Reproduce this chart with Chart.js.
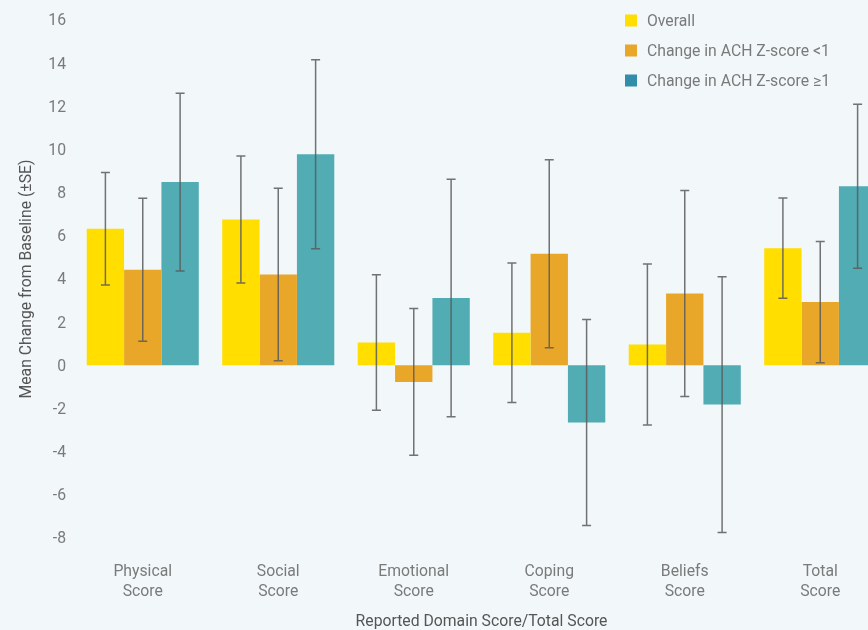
<!DOCTYPE html>
<html>
<head>
<meta charset="utf-8">
<script src="https://cdn.jsdelivr.net/npm/chart.js@4"></script>
<style>
html,body{margin:0;padding:0;background:#f2f7fa;overflow:hidden;width:868px;height:630px;}
canvas{display:block;}
</style>
</head>
<body>
<canvas id="c" width="888" height="630"></canvas>
<script>
const categories = [['Physical','Score'],['Social','Score'],['Emotional','Score'],['Coping','Score'],['Beliefs','Score'],['Total','Score']];
const seriesNames = ['Overall','Change in ACH Z-score <1','Change in ACH Z-score \u22651'];
const overall = [6.33, 6.76, 1.06, 1.51, 0.96, 5.43];
const overallSE = [2.61, 2.94, 3.14, 3.23, 3.73, 2.32];
const zLow = [4.43, 4.21, -0.77, 5.17, 3.33, 2.93];
const zLowSE = [3.31, 4.00, 3.40, 4.35, 4.77, 2.81];
const zHigh = [8.49, 9.78, 3.12, -2.65, -1.82, 8.30];
const zHighSE = [4.12, 4.38, 5.50, 4.77, 5.92, 3.80];
const yTicks = [-8,-6,-4,-2,0,2,4,6,8,10,12,14,16];

const barColors = ['#ffde00','#e8a729','#51acb4'];
const legendColors = ['#ffde00','#e8a729','#318daa'];
const FONT = 'Roboto';
const FS = 15.75;

const errorBars = {
  id: 'errorBars',
  afterDatasetsDraw(chart) {
    const ctx = chart.ctx;
    const y = chart.scales.y;
    ctx.save();
    ctx.strokeStyle = 'rgba(90,90,90,0.85)';
    ctx.lineWidth = 1.5;
    chart.data.datasets.forEach((ds, i) => {
      const meta = chart.getDatasetMeta(i);
      meta.data.forEach((bar, j) => {
        const v = ds.data[j], se = ds.se[j];
        const top = y.getPixelForValue(v + se);
        const bot = y.getPixelForValue(v - se);
        const x = bar.x;
        ctx.beginPath();
        ctx.moveTo(x, top); ctx.lineTo(x, bot);
        ctx.moveTo(x - 4.5, top); ctx.lineTo(x + 4.5, top);
        ctx.moveTo(x - 4.5, bot); ctx.lineTo(x + 4.5, bot);
        ctx.stroke();
      });
    });
    ctx.restore();
  }
};

const legendList = {
  id: 'legendList',
  afterDraw(chart) {
    const ctx = chart.ctx;
    ctx.save();
    ctx.font = FS + 'px ' + FONT;
    ctx.textBaseline = 'middle';
    ctx.textAlign = 'left';
    chart.data.datasets.forEach((ds, i) => {
      const cy = 20.5 + i * 30;
      ctx.fillStyle = legendColors[i];
      ctx.fillRect(625, cy - 6, 12, 12);
      ctx.fillStyle = '#7a7a7a';
      ctx.fillText(ds.label, 647, cy + 1.5);
    });
    ctx.restore();
  }
};

new Chart(document.getElementById('c'), {
  type: 'bar',
  data: {
    labels: categories,
    datasets: [
      {label: seriesNames[0], data: overall, se: overallSE, backgroundColor: barColors[0]},
      {label: seriesNames[1], data: zLow, se: zLowSE, backgroundColor: barColors[1]},
      {label: seriesNames[2], data: zHigh, se: zHighSE, backgroundColor: barColors[2]}
    ]
  },
  options: {
    responsive: false,
    animation: false,
    layout: {padding: {top: 20, left: 0, right: 0, bottom: 0}},
    datasets: {bar: {categoryPercentage: 0.827, barPercentage: 1.0, borderWidth: 0}},
    plugins: {legend: {display: false}, tooltip: {enabled: false}},
    scales: {
      x: {
        grid: {display: false, drawTicks: false},
        border: {display: false},
        ticks: {color: '#7a7a7a', font: {family: FONT, size: FS, lineHeight: 1.27}, padding: 24, maxRotation: 0},
        title: {display: true, text: 'Reported Domain Score/Total Score', color: '#555', font: {family: FONT, size: FS, lineHeight: 1.0}, padding: {top: 0, bottom: 0}},
        afterFit(s) { s.height = 92; }
      },
      y: {
        min: -8, max: 16,
        grid: {display: false, drawTicks: false},
        border: {display: false},
        afterBuildTicks(s) { s.ticks = yTicks.map(v => ({value: v})); },
        ticks: {color: '#7a7a7a', font: {family: FONT, size: FS}, padding: 9, labelOffset: 1.5},
        title: {display: true, text: 'Mean Change from Baseline (\u00b1SE)', color: '#555', font: {family: FONT, size: FS, lineHeight: 1.33}, padding: {top: 17, bottom: 0}},
        afterFit(s) { s.width = 75; }
      }
    }
  },
  plugins: [errorBars, legendList]
});
</script>
</body>
</html>
